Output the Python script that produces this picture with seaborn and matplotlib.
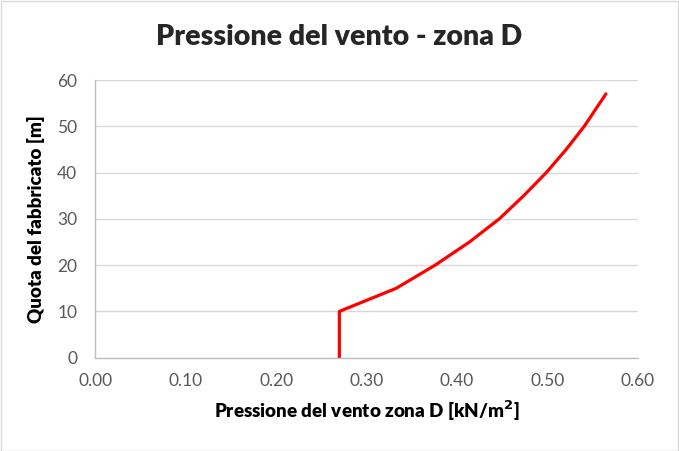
import pandas as pd
import seaborn as sns
import matplotlib.pyplot as plt
from matplotlib.patches import Rectangle

# valori
pressione = [0.27, 0.27, 0.333, 0.376, 0.414, 0.447, 0.474, 0.499, 0.521, 0.541, 0.565]
quota = [0, 10, 15, 20, 25, 30, 35, 40, 45, 50, 57]
xticks = [0.0, 0.1, 0.2, 0.3, 0.4, 0.5, 0.6]
yticks = [0, 10, 20, 30, 40, 50, 60]

df = pd.DataFrame({'pressione': pressione, 'quota': quota})

sns.set_style('white')
plt.rcParams['font.family'] = ['Lato', 'DejaVu Sans']

fig = plt.figure(figsize=(6.79, 4.51), dpi=100)
ax = fig.add_axes([0.1404, 0.2069, 0.7986, 0.6157])

sns.lineplot(data=df, x='pressione', y='quota', sort=False, color='#ff0000',
             linewidth=2.3, ax=ax, estimator=None)

ax.set_xlim(0, 0.6)
ax.set_ylim(0, 60)
ax.set_xticks(xticks)
ax.set_xticklabels(['%.2f' % v for v in xticks])
ax.set_yticks(yticks)
ax.tick_params(axis='both', length=0, labelsize=12.5, colors='#595959')
ax.tick_params(axis='x', pad=11)
ax.tick_params(axis='y', pad=13)

ax.grid(axis='y', color='#d9d9d9', linewidth=1)
for s in ['top', 'right']:
    ax.spines[s].set_visible(False)
for s in ['left', 'bottom']:
    ax.spines[s].set_color('#bfbfbf')
    ax.spines[s].set_linewidth(1)

ax.set_xlabel('Pressione del vento zona D [kN/m$^{\\mathbf{2}}$]', fontsize=13.5,
              fontweight='heavy', color='black', labelpad=7)
ax.set_ylabel('Quota del fabbricato [m]', fontsize=13.5, fontweight='heavy',
              color='black', labelpad=9)

fig.text(0.5, 0.918, 'Pressione del vento - zona D', ha='center', va='center',
         fontsize=20.5, fontweight='heavy')

# bordo esterno come in Excel
fig.patches.append(Rectangle((0.001, 0.001), 0.997, 0.997, transform=fig.transFigure,
                             fill=False, edgecolor='#d9d9d9', linewidth=1))

fig.savefig('out.png', dpi=100)
